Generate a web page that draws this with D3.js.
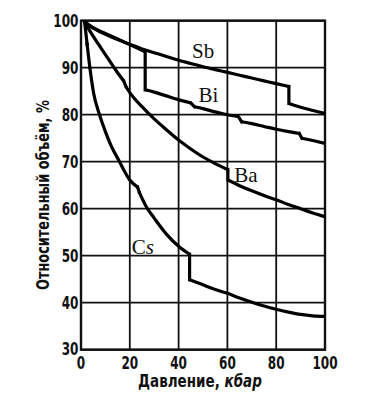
<!DOCTYPE html>
<html>
<head>
<meta charset="utf-8">
<script src="https://cdn.jsdelivr.net/npm/d3@7"></script>
<style>
  body { margin: 0; background: #fff; }
  svg { display: block; }
  .tick-lbl { font-family: "DejaVu Sans", sans-serif; font-weight: bold; font-size: 18px; fill: #111; }
  .ax-title { font-family: "DejaVu Sans", sans-serif; font-weight: bold; font-size: 17px; fill: #111; }
  .ser-lbl { font-family: "Liberation Serif", "DejaVu Serif", serif; font-size: 21px; fill: #111; }
</style>
</head>
<body>
<svg id="chart" width="375" height="400"></svg>
<script>
// Относительный объём металлов в зависимости от давления

// Ticks
const xTicks = [0, 20, 40, 60, 80, 100];
const yTicks = [30, 40, 50, 60, 70, 80, 90, 100];

// Sb
const sbP = [1.5, 5, 10, 15, 20, 25, 30, 35, 40, 45, 50, 55, 60, 65, 70, 75, 80, 85.2, 85.2, 90, 95, 100];
const sbV = [99.7, 98.4, 97.1, 96.0, 95.0, 94.0, 93.2, 92.4, 91.6, 90.9, 90.2, 89.6, 89.0, 88.4, 87.8, 87.2, 86.6, 86.0, 82.4, 81.6, 80.9, 80.3];

// Bi
const biP = [1.5, 5, 10, 15, 20, 26.3, 26.3, 30, 35, 40, 45, 46.5, 50, 55, 60, 64.5, 65.8, 70, 75, 80, 85, 89.5, 90.5, 95, 100];
const biV = [99.7, 98.5, 97.3, 96.1, 94.9, 93.4, 85.3, 84.8, 84.0, 83.2, 82.5, 81.7, 81.3, 80.6, 80.0, 79.6, 78.5, 78.1, 77.5, 76.9, 76.4, 76.0, 75.0, 74.5, 73.9];

// Ba
const baP = [1.5, 4, 7, 10, 12.4, 14.5, 17.6, 18.4, 20, 25, 30, 35, 40, 45, 50, 55, 60.2, 60.2, 65, 70, 75, 80, 85, 90, 95, 100];
const baV = [99.7, 97.5, 95.1, 92.8, 90.9, 89.3, 87.1, 86.0, 84.7, 81.7, 79.1, 76.8, 74.6, 72.7, 71.0, 69.6, 68.3, 66.1, 64.9, 63.8, 62.8, 61.9, 60.9, 60.0, 59.1, 58.3];

// Cs
const csP = [1.5, 2.5, 3.6, 5.2, 7.6, 10, 12.5, 15.8, 18, 20, 23.2, 23.8, 27, 30, 35, 40, 44.5, 44.5, 50, 55, 60, 65, 70, 75, 80, 85, 90, 95, 100];
const csV = [99.7, 95.0, 90.1, 84.5, 80.0, 76.4, 73.2, 70.0, 67.8, 66.1, 64.6, 63.6, 60.2, 58.0, 54.6, 52.0, 50.3, 44.9, 43.8, 42.8, 42.0, 41.0, 40.1, 39.3, 38.6, 38.0, 37.5, 37.2, 37.1];

// Подписи кривых (положение в единицах графика)
const labelNames = ["Sb", "Bi", "Ba", "Cs"];
const labelP = [45.5, 48.2, 62.8, 20.8];
const labelV = [92.1, 82.8, 65.6, 50.3];

const series = [[sbP, sbV], [biP, biV], [baP, baV], [csP, csV]];

const svg = d3.select("#chart");
const x = d3.scaleLinear().domain([0, 100]).range([81, 325]);
const y = d3.scaleLinear().domain([30, 100]).range([349.7, 20.7]);

// Узкий шрифт: сжимаем текст по горизонтали до нужной ширины
function squeeze(t, px, py, width, anchor, angle)
{
    var w = t.node().getComputedTextLength();
    var k = width / w;
    var dx = anchor === "end" ? -w : (anchor === "middle" ? -w / 2 : 0);
    t.attr("x", dx).attr("y", 0)
        .attr("transform", `translate(${px},${py}) rotate(${angle || 0}) scale(${k},1)`);
}

// Сетка
svg.append("g")
    .selectAll("line")
    .data(xTicks)
    .join("line")
    .attr("x1", d => x(d)).attr("x2", d => x(d))
    .attr("y1", y(30)).attr("y2", y(100))
    .attr("stroke", "#111")
    .attr("stroke-width", 1.8);

svg.append("g")
    .selectAll("line")
    .data(yTicks)
    .join("line")
    .attr("x1", x(0)).attr("x2", x(100))
    .attr("y1", d => y(d)).attr("y2", d => y(d))
    .attr("stroke", "#111")
    .attr("stroke-width", 1.8);

// Рамка (оси)
svg.append("rect")
    .attr("x", x(0)).attr("y", y(100))
    .attr("width", x(100) - x(0)).attr("height", y(30) - y(100))
    .attr("fill", "none")
    .attr("stroke", "#111")
    .attr("stroke-width", 2.4);

// Подписи делений
xTicks.forEach(d => {
    var t = svg.append("text").attr("class", "tick-lbl").text(d);
    squeeze(t, x(d), 369, String(d).length * 8.4, "middle");
});

yTicks.forEach(d => {
    var t = svg.append("text").attr("class", "tick-lbl").text(d);
    squeeze(t, 78.5, y(d) + (d === 30 ? 5 : 6.5), String(d).length * 8.4, "end");
});

// Названия осей
var xt = svg.append("text").attr("class", "ax-title");
xt.append("tspan").text("Давление, ");
xt.append("tspan").attr("font-style", "italic").text("кбар");
squeeze(xt, 200, 387, 124, "middle");

var yt = svg.append("text").attr("class", "ax-title").text("Относительный объём, %");
squeeze(yt, 48.5, 195, 190, "middle", -90);

// Кривые: плавные участки + скачки прямыми
const smooth = d3.line().x(d => x(d[0])).y(d => y(d[1])).curve(d3.curveMonotoneX);
const straight = d3.line().x(d => x(d[0])).y(d => y(d[1]));

series.forEach(s => {
    var pts = s[0].map((p, i) => [p, s[1][i]]);
    var runs = [[pts[0]]];
    for (var i = 1; i < pts.length; i++) {
        if (pts[i][0] - pts[i - 1][0] <= 1.5) {
            // скачок
            svg.append("path")
                .attr("d", straight([pts[i - 1], pts[i]]))
                .attr("fill", "none").attr("stroke", "#000")
                .attr("stroke-width", 3.2).attr("stroke-linecap", "square");
            runs.push([pts[i]]);
        } else {
            runs[runs.length - 1].push(pts[i]);
        }
    }
    runs.filter(r => r.length > 1).forEach(r => {
        svg.append("path")
            .attr("d", smooth(r))
            .attr("fill", "none").attr("stroke", "#000")
            .attr("stroke-width", 3.2).attr("stroke-linejoin", "round");
    });
});

// Подписи кривых
labelNames.forEach((name, i) => {
    var t = svg.append("text")
        .attr("class", "ser-lbl")
        .attr("x", x(labelP[i]))
        .attr("y", y(labelV[i]));
    t.append("tspan").text(name[0]);
    t.append("tspan").attr("font-style", name === "Cs" ? "italic" : "normal").text(name[1]);
});
</script>
</body>
</html>
